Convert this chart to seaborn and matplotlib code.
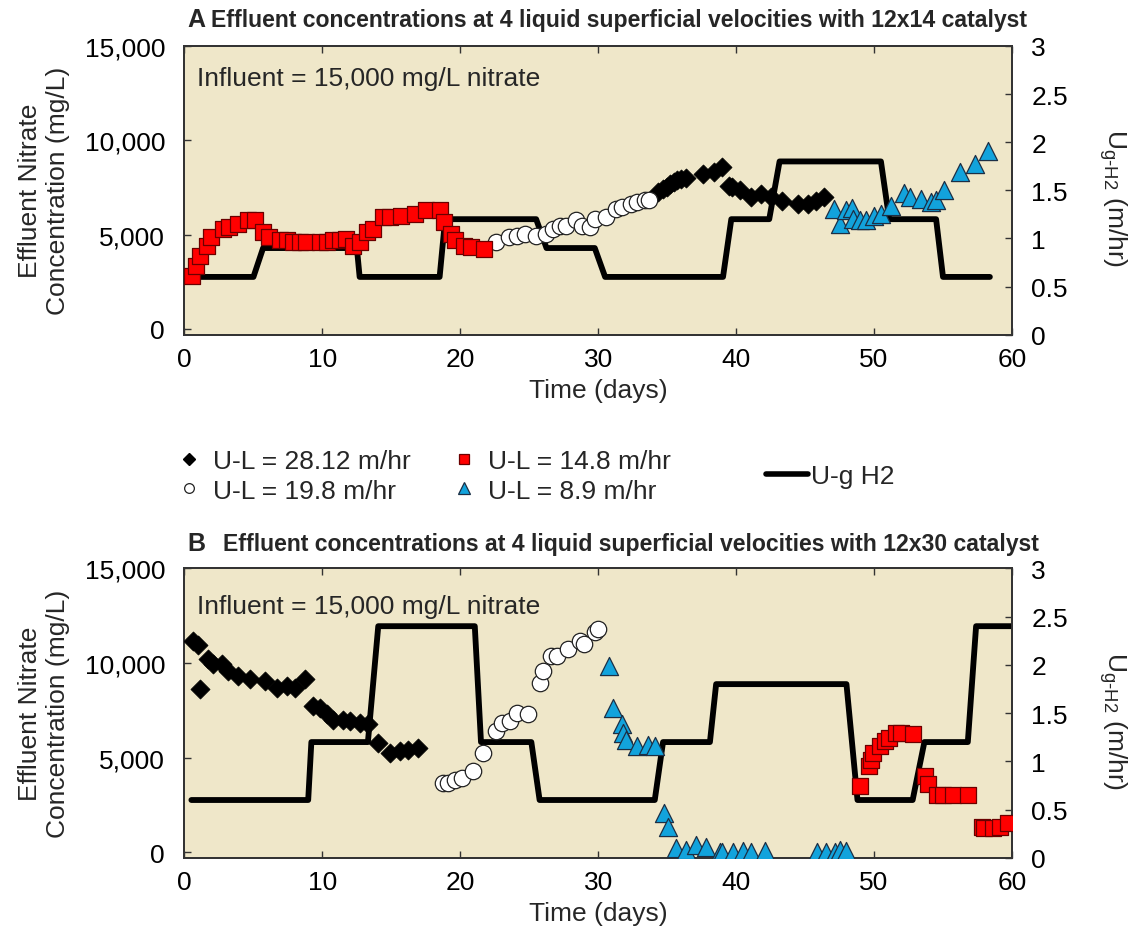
import numpy as np
import pandas as pd
import matplotlib
matplotlib.use("Agg")
import matplotlib.pyplot as plt
import seaborn as sns
from matplotlib.lines import Line2D
from matplotlib.ticker import FuncFormatter

# ---------------- data ----------------
# Panel A (12x14 catalyst)
A_d28_day = [34.3, 34.7, 35.0, 35.2, 35.5, 35.7, 36.0, 36.4, 37.6, 38.4, 39.0, 39.5, 39.7, 40.25, 41.1, 41.8, 42.55, 43.3, 44.5, 45.2, 45.8, 46.4]
A_d28_conc = [7250, 7430, 7550, 7690, 7800, 7870, 7950, 7990, 8220, 8310, 8580, 7600, 7510, 7340, 6980, 7160, 6980, 6800, 6630, 6630, 6800, 6980]

A_c19_day = [22.6, 23.5, 24.1, 24.7, 25.5, 26.2, 26.7, 27.2, 27.7, 28.4, 28.8, 29.4, 29.75, 30.6, 31.3, 31.7, 32.4, 32.8, 33.4, 33.7]
A_c19_conc = [4630, 4870, 4950, 5040, 4920, 5040, 5310, 5450, 5480, 5750, 5480, 5400, 5840, 5930, 6370, 6460, 6630, 6720, 6810, 6810]

A_s14_day = [0.55, 0.8, 1.1, 1.6, 1.9, 2.8, 3.2, 3.9, 4.6, 5.1, 5.7, 6.1, 6.9, 7.4, 7.9, 8.4, 8.8, 9.8, 10.3, 10.8, 11.3, 11.7, 12.2, 12.7, 13.2, 13.7, 14.4, 14.9, 15.7, 16.7, 17.5, 18.5, 18.85, 19.3, 19.6, 20.3, 20.8, 21.7]
A_s14_conc = [2830, 3360, 3890, 4420, 4870, 5310, 5400, 5570, 5750, 5750, 5130, 4870, 4690, 4690, 4600, 4600, 4600, 4600, 4600, 4690, 4690, 4780, 4420, 4600, 5130, 5310, 5930, 5930, 6010, 6100, 6280, 6280, 5660, 5040, 4690, 4420, 4340, 4250]

A_t89_day = [47.1, 47.55, 48.0, 48.4, 48.5, 48.95, 49.4, 50.0, 50.5, 51.2, 52.2, 52.6, 53.4, 54.1, 54.5, 55.1, 56.2, 57.3, 58.25]
A_t89_conc = [6370, 5570, 6330, 6400, 5840, 5800, 5750, 6010, 6100, 6510, 7210, 6980, 6900, 6720, 6810, 7340, 8310, 8750, 9450]

A_ug_day = [0.5, 5.0, 5.7, 12.5, 12.7, 18.5, 18.9, 25.5, 26.25, 29.75, 30.5, 39.05, 39.65, 42.4, 43.15, 50.5, 51.1, 54.5, 55.0, 58.4]
A_ug_val = [0.6, 0.6, 0.9, 0.9, 0.6, 0.6, 1.2, 1.2, 0.9, 0.9, 0.6, 0.6, 1.2, 1.2, 1.8, 1.8, 1.2, 1.2, 0.6, 0.6]

# Panel B (12x30 catalyst)
B_d28_day = [0.64, 1.0, 1.12, 1.73, 2.09, 2.7, 3.17, 3.9, 4.75, 5.83, 6.68, 7.4, 8.0, 8.73, 9.33, 9.82, 10.3, 10.8, 11.5, 12.0, 12.7, 13.3, 14.05, 14.9, 15.6, 16.2, 16.9]
B_d28_conc = [11160, 10930, 8600, 10190, 9930, 9930, 9570, 9310, 9130, 9040, 8690, 8780, 8690, 9170, 7750, 7630, 7280, 7010, 7010, 6920, 6830, 6750, 5780, 5250, 5330, 5420, 5510]

B_c19_day = [18.75, 19.1, 19.6, 20.1, 20.9, 21.65, 22.6, 23.0, 23.6, 24.1, 24.9, 25.8, 26.0, 26.6, 27.0, 27.8, 28.66, 29.0, 29.75, 29.99]
B_c19_conc = [3660, 3660, 3830, 3920, 4270, 5250, 6390, 6830, 6920, 7370, 7280, 8960, 9570, 10370, 10370, 10720, 11160, 10990, 11610, 11780]

B_s14_day = [48.95, 49.6, 49.8, 49.9, 50.4, 50.76, 51.1, 51.6, 51.97, 52.8, 53.66, 53.9, 54.6, 55.0, 55.7, 56.8, 57.8, 58.0, 58.6, 59.1, 59.7]
B_s14_conc = [3480, 4570, 4890, 5250, 5600, 5860, 6040, 6310, 6310, 6220, 4010, 3620, 3040, 3040, 3040, 3000, 1360, 1270, 1270, 1360, 1540]

B_t89_day = [30.8, 31.07, 31.7, 31.8, 32.0, 32.8, 33.6, 34.1, 34.8, 35.06, 35.67, 36.4, 37.1, 37.8, 38.8, 39.0, 39.8, 40.5, 41.1, 42.1, 45.9, 46.5, 47.2, 47.5, 48.0]
B_t89_conc = [9840, 7630, 6750, 6310, 5950, 5600, 5690, 5600, 2070, 1360, 210, 120, 390, 300, 30, 20, 30, 60, 20, 60, 20, 20, 30, 120, 80]

B_ug_day = [0.5, 8.97, 9.2, 13.3, 14.05, 21.05, 21.5, 25.15, 25.75, 34.1, 34.7, 38.1, 38.55, 48.0, 48.8, 52.8, 53.65, 56.8, 57.4, 60.0]
B_ug_val = [0.6, 0.6, 1.2, 1.2, 2.4, 2.4, 1.2, 1.2, 0.6, 0.6, 1.2, 1.2, 1.8, 1.8, 0.6, 0.6, 1.2, 1.2, 2.4, 2.4]

labels = ["U-L = 28.12 m/hr", "U-L = 19.8 m/hr", "U-L = 14.8 m/hr", "U-L = 8.9 m/hr", "U-g H2"]
titles = ["Effluent concentrations at 4 liquid superficial velocities with 12x14 catalyst",
          "Effluent concentrations at 4 liquid superficial velocities with 12x30 catalyst"]
panel_letters = ["A", "B"]
x_ticks = [0, 10, 20, 30, 40, 50, 60]
y_ticks = [0, 5000, 10000, 15000]
y2_ticks = [0, 0.5, 1, 1.5, 2, 2.5, 3]

# ---------------- style ----------------
sns.set_style("ticks")
FAM = ["Liberation Sans", "DejaVu Sans"]
plt.rcParams["font.family"] = FAM
plt.rcParams["mathtext.fontset"] = "custom"
plt.rcParams["mathtext.rm"] = "Liberation Sans"
plt.rcParams["mathtext.it"] = "Liberation Sans"

BG = "#EFE7C9"
RED = "#FF0000"
BLUE = "#12A3DC"
FS = 19

fig = plt.figure(figsize=(11.36, 9.28), dpi=100)
axA = fig.add_axes([0.1624, 0.6383, 0.7284, 0.3111])
axB = fig.add_axes([0.1624, 0.0744, 0.7284, 0.3122])

panels = [
    (axA, A_d28_day, A_d28_conc, A_c19_day, A_c19_conc, A_s14_day, A_s14_conc, A_t89_day, A_t89_conc, A_ug_day, A_ug_val),
    (axB, B_d28_day, B_d28_conc, B_c19_day, B_c19_conc, B_s14_day, B_s14_conc, B_t89_day, B_t89_conc, B_ug_day, B_ug_val),
]

for i, (ax, d1, c1, d2, c2, d3, c3, d4, c4, ud, uv) in enumerate(panels):
    ax2 = ax.twinx()
    ax.set_zorder(ax2.get_zorder() + 1)
    ax.patch.set_visible(False)
    ax2.patch.set_visible(True)
    ax2.set_facecolor(BG)

    sns.lineplot(x=ud, y=uv, ax=ax2, color="black", lw=4.2, sort=False,
                 estimator=None, legend=False)

    sns.scatterplot(x=d1, y=c1, ax=ax, marker="D", s=95, color="black",
                    edgecolor="black", linewidth=0.5, legend=False, zorder=3)
    sns.scatterplot(x=d2, y=c2, ax=ax, marker="o", s=140, color="white",
                    edgecolor="#222222", linewidth=0.9, legend=False, zorder=3)
    sns.scatterplot(x=d3, y=c3, ax=ax, marker="s", s=140, color=RED,
                    edgecolor="#6a0000", linewidth=0.9, legend=False, zorder=3)
    sns.scatterplot(x=d4, y=c4, ax=ax, marker="^", s=170, color=BLUE,
                    edgecolor="#1c2f45", linewidth=0.9, legend=False, zorder=3)

    ax.set_xlim(0, 60)
    ax.set_ylim(-300, 15000)
    ax2.set_ylim(0, 3)
    ax.set_xticks(x_ticks)
    ax.set_yticks(y_ticks)
    ax2.set_yticks(y2_ticks)
    ax.yaxis.set_major_formatter(FuncFormatter(lambda v, p: f"{int(v):,}"))
    ax2.yaxis.set_major_formatter(FuncFormatter(lambda v, p: f"{v:g}"))

    ax.tick_params(axis="x", direction="in", length=5, width=1, top=True,
                   labelsize=FS, pad=9, colors="#333333", labelcolor="black")
    ax.tick_params(axis="y", direction="in", length=5, width=1,
                   labelsize=FS, pad=14, colors="#333333", labelcolor="black")
    ax2.tick_params(axis="y", direction="in", length=5, width=1,
                    labelsize=FS, pad=14, colors="#333333", labelcolor="black")
    for a in (ax, ax2):
        for sp in a.spines.values():
            sp.set_color("#333333")
            sp.set_linewidth(1.3)

    ax.set_xlabel("Time (days)", fontsize=FS, labelpad=5)
    ax.set_ylabel("Effluent Nitrate\nConcentration (mg/L)", fontsize=FS,
                  linespacing=1.2)
    ax.yaxis.set_label_coords(-0.138, 0.5)
    ax2.set_ylabel(r"U$_{\mathregular{g\text{-}H2}}$ (m/hr)", fontsize=FS,
                   rotation=270, va="bottom")
    ax2.yaxis.set_label_coords(1.103, 0.475)

    ax.text(0.015, 0.89 if i == 0 else 0.87, "Influent = 15,000 mg/L nitrate",
            transform=ax.transAxes, fontsize=FS, ha="left", va="center")

# titles
fig.text(187 / 1136, 1 - 20 / 928, "A", fontsize=18, fontweight="bold", va="center", ha="left")
fig.text(211 / 1136, 1 - 21 / 928, titles[0], fontsize=16.6, fontweight="bold", va="center", ha="left")
fig.text(187 / 1136, 1 - 544 / 928, "B", fontsize=18, fontweight="bold", va="center", ha="left")
fig.text(223 / 1136, 1 - 545 / 928, titles[1], fontsize=16.6, fontweight="bold", va="center", ha="left")

# legend
h = [
    Line2D([], [], ls="none", marker="D", ms=6, mfc="black", mec="black"),
    Line2D([], [], ls="none", marker="o", ms=7, mfc="white", mec="#222222", mew=0.9),
    Line2D([], [], ls="none", marker="s", ms=7, mfc=RED, mec="#6a0000", mew=0.9),
    Line2D([], [], ls="none", marker="^", ms=8, mfc=BLUE, mec="#1c2f45", mew=0.9),
]
fig.legend(h, labels[:4], ncol=2, loc="center left",
           bbox_to_anchor=(177 / 1136, 1 - 477 / 928), frameon=False,
           fontsize=FS, handlelength=0.9, handletextpad=0.45,
           columnspacing=1.6, labelspacing=0.2, borderpad=0, borderaxespad=0)
hl = [Line2D([], [], color="black", lw=4)]
fig.legend(hl, labels[4:], loc="center left",
           bbox_to_anchor=(766 / 1136, 1 - 477 / 928), frameon=False,
           fontsize=FS, handlelength=1.6, handletextpad=0.1,
           borderpad=0, borderaxespad=0)

fig.savefig("out.png", dpi=100)
